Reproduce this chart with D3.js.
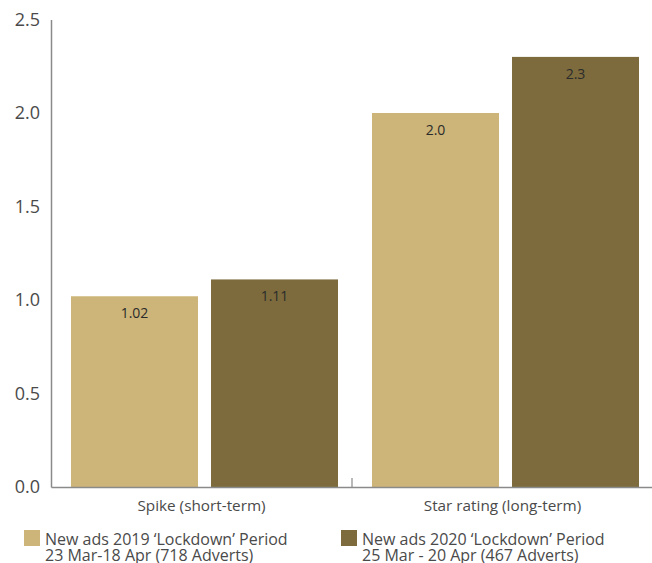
<!DOCTYPE html>
<html>
<head>
<meta charset="UTF-8">
<script src="https://cdn.jsdelivr.net/npm/d3@7"></script>
<style>
  body { margin: 0; background: #fff; }
  text { font-family: "Open Sans", Lato, sans-serif; }
</style>
</head>
<body>
<svg width="652" height="563"></svg>
<script>
var categories = ['Spike (short-term)', 'Star rating (long-term)'];
var seriesNames = ['2019', '2020'];
var values2019 = [1.02, 2.0];
var values2020 = [1.11, 2.3];
var valueLabels2019 = ['1.02', '2.0'];
var valueLabels2020 = ['1.11', '2.3'];
var yTicks = [0, 0.5, 1.0, 1.5, 2.0, 2.5];
var legendLines = [
    ['New ads 2019 \u2018Lockdown\u2019 Period', '23 Mar-18 Apr (718 Adverts)'],
    ['New ads 2020 \u2018Lockdown\u2019 Period', '25 Mar - 20 Apr (467 Adverts)']
];

var colors = { LIGHT: '#CDB579', DARK: '#7D6B3D', AXIS: '#8a8a8a', TEXT: '#4a4a4a' };
var svg = d3.select('svg');

var y = d3.scaleLinear().domain([0, 2.5]).range([487, 19.5]);
var x0 = d3.scaleBand().domain(categories).range([51, 653]);
var x1 = d3.scaleBand().domain(seriesNames).range([20, 287]).paddingInner(0.093);

var rows = categories.map(function (c, i) {
    return [
        { cat: c, s: '2019', v: values2019[i], label: valueLabels2019[i], color: colors.LIGHT },
        { cat: c, s: '2020', v: values2020[i], label: valueLabels2020[i], color: colors.DARK }
    ];
});
var bars = d3.merge(rows);

svg.selectAll('.bar')
    .data(bars)
    .enter()
    .append('rect')
    .attr('x', function (d) { return x0(d.cat) + x1(d.s); })
    .attr('y', function (d) { return y(d.v); })
    .attr('width', x1.bandwidth())
    .attr('height', function (d) { return y(0) - y(d.v); })
    .attr('fill', function (d) { return d.color; });

svg.selectAll('.val')
    .data(bars)
    .enter()
    .append('text')
    .text(function (d) { return d.label; })
    .attr('x', function (d) { return x0(d.cat) + x1(d.s) + x1.bandwidth() / 2; })
    .attr('y', function (d) { return y(d.v) + 22; })
    .attr('text-anchor', 'middle')
    .attr('font-size', 14)
    .attr('fill', '#2b2b2b');

// y axis
var yAxis = svg.append('g')
    .attr('transform', 'translate(51,0)')
    .call(d3.axisLeft(y).tickValues(yTicks).tickFormat(d3.format('.1f')).tickSize(0).tickPadding(11));
yAxis.select('.domain').attr('stroke', colors.AXIS).attr('stroke-width', 1.5);
yAxis.selectAll('text').attr('font-size', 18).attr('fill', colors.TEXT)
    .style('font-family', '"Open Sans", sans-serif');

// x axis
var xAxis = svg.append('g')
    .attr('transform', 'translate(0,487)')
    .call(d3.axisBottom(x0).tickSize(0).tickPadding(13));
xAxis.select('.domain').attr('stroke', colors.AXIS).attr('stroke-width', 1.5);
xAxis.selectAll('text').attr('font-size', 15.3).attr('fill', colors.TEXT).attr('dy', '0.71em')
    .style('font-family', '"Open Sans", sans-serif');

svg.append('line')
    .attr('x1', x0(categories[1])).attr('x2', x0(categories[1]))
    .attr('y1', 487).attr('y2', 478)
    .attr('stroke', colors.AXIS).attr('stroke-width', 1.2);

// legend
var legend = svg.selectAll('.legend')
    .data(legendLines)
    .enter()
    .append('g')
    .attr('transform', function (d, i) { return 'translate(' + (i === 0 ? 24 : 341) + ',530)'; });
legend.append('rect')
    .attr('width', 16).attr('height', 16)
    .attr('fill', function (d, i) { return i === 0 ? colors.LIGHT : colors.DARK; });
legend.selectAll('.line')
    .data(function (d) { return d; })
    .enter()
    .append('text')
    .attr('x', 21)
    .attr('y', function (d, i) { return 14.5 + i * 16.5; })
    .attr('font-size', 16)
    .attr('fill', colors.TEXT)
    .text(function (d) { return d; });
</script>
</body>
</html>
